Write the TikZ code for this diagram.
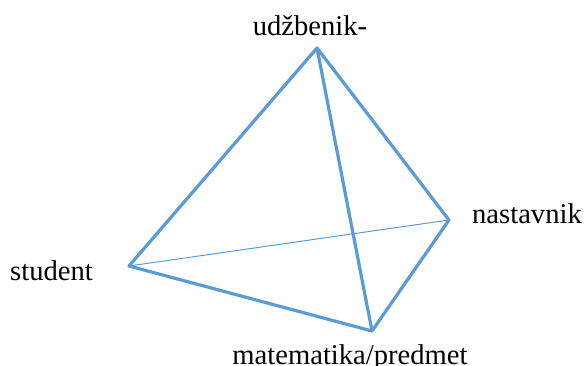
\documentclass[tikz,border=0pt]{standalone}
\usepackage{fontspec}
\setmainfont{Liberation Serif}
\definecolor{edgeblue}{HTML}{5B9BD5}

\begin{document}
\begin{tikzpicture}[x=0.5pt,y=-0.5pt,
  edge/.style={draw=edgeblue,line width=1.6pt,line join=round},
  thinedge/.style={draw=edgeblue,line width=0.5pt},
  vlabel/.style={inner sep=0pt,anchor=base,font=\fontsize{14.3}{17}\selectfont}]
  \useasboundingbox (0,0) rectangle (584,365);
  % corners of the tetrahedron
  \coordinate (top) at (317,48);
  \coordinate (right) at (449,220);
  \coordinate (left) at (129,266);
  \coordinate (bottom) at (372,331);
  % labels
  \node[vlabel] (udzbenik) at (310,35) {udžbenik-};
  \node[vlabel] (nastavnik) at (527,223) {nastavnik};
  \node[vlabel] (student) at (51.5,280) {student};
  \node[vlabel] (predmet) at (350,364) {matematika/predmet};
  % edges
  \draw[thinedge] (left) -- (right);
  \draw[edge] (left) -- (top) -- (right) -- (bottom) -- cycle;
  \draw[edge] (top) -- (bottom);
\end{tikzpicture}
\end{document}
